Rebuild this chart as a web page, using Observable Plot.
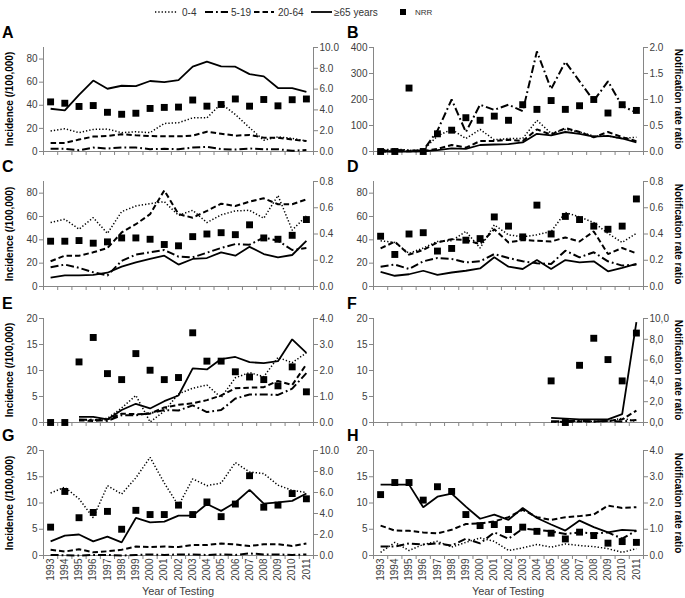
<!DOCTYPE html>
<html><head><meta charset="utf-8">
<script src="https://cdn.jsdelivr.net/npm/d3@7"></script>
<script src="https://cdn.jsdelivr.net/npm/@observablehq/plot@0.6"></script>
<style>
body{margin:0;background:#fff;}
#wrap{position:relative;width:685px;height:598px;font-family:"Liberation Sans",Arial,sans-serif;overflow:hidden;}
#wrap svg.plt{position:absolute;left:0;top:0;}
.t{position:absolute;white-space:nowrap;color:#000;}
.letter{font-weight:bold;font-size:16px;}
.ylab{font-weight:bold;font-size:10px;transform:translate(-50%,-50%) rotate(-90deg);}
.rlab{font-weight:bold;font-size:10px;transform:translate(-50%,-50%) rotate(90deg);}
.xlab{font-size:11px;color:#404040;transform:translate(-50%,-50%);}
</style></head><body><div id="wrap"></div>
<script>
// ---------- data ----------
const years = [1993,1994,1995,1996,1997,1998,1999,2000,2001,2002,2003,2004,2005,2006,2007,2008,2009,2010,2011];
const seriesNames = ["0-4","5-19","20-64","≥65 years"];

// Panel A
const a04   = [17.7,19.7,16.3,19.1,19.4,16.3,17.1,16.3,24.3,24.9,29.1,29.1,41.4,32.0,20.6,9.7,12.6,11.4,9.1];
const a519  = [2.3,2.3,1.1,3.4,2.6,3.4,3.4,2.0,2.3,2.0,3.4,4.0,2.0,1.7,2.6,2.0,2.0,0.6,1.4];
const a2064 = [7.4,7.4,10.3,12.9,13.4,14.9,14.0,13.4,13.1,13.1,13.7,17.1,15.4,13.7,14.3,12.0,12.0,10.3,9.1];
const a65   = [37,35.5,49,61.4,54.3,56.9,56.6,61,60,61.7,73.4,77.7,73.7,73.4,67,65,54.9,54.9,51.7];
const aNrr  = [4.77,4.64,4.33,4.42,3.77,3.58,3.68,4.14,4.24,4.27,4.95,4.36,4.52,5.05,4.36,5.0,4.39,4.98,5.05];
// Panel B
const b04   = [5,10,5,5,60,85,50,85,45,50,50,120,70,85,75,60,60,50,55];
const b519  = [2,6,4,4,80,200,75,180,160,180,155,385,240,345,270,195,270,175,150];
const b2064 = [0,1,1,2,10,25,15,40,40,45,40,85,65,90,75,55,75,55,40];
const b65   = [0,0,0,1,5,12,10,25,27,28,35,68,62,75,68,57,60,50,35];
const bNrr  = [0,0,1.22,0,0.34,0.41,0.65,0.6,0.68,0.6,0.9,0.81,0.98,0.81,0.88,1.0,0.74,0.9,0.79];
// Panel C
const c04   = [54.8,57.7,49.1,59,45.5,64.2,69,71,72.7,61,65.3,54.8,61.4,64.8,65.3,58.5,78,48.3,60.5];
const c519  = [16.5,18.8,16,12.2,9.4,22,27.3,29.3,31.3,25.6,25,29,33,36.4,35.8,42,39.2,31.3,33];
const c2064 = [21.6,26.4,26.4,29.3,33,46.3,53.4,62,82.4,62,59,64.8,71,69,72.7,75.6,70.5,70.5,74.7];
const c65   = [7.7,9.5,9.5,10,11.8,17,20.7,23.6,26.4,18.8,23.6,24.4,29.3,26.4,34,27.8,25,27,39.2];
const cNrr  = [0.345,0.345,0.35,0.33,0.34,0.37,0.37,0.36,0.32,0.31,0.38,0.40,0.41,0.395,0.47,0.37,0.36,0.39,0.51];
// Panel D
const d04   = [39.2,37.8,28.4,33,38.6,39.2,47.2,33,52.8,44.3,42.6,44.3,47.2,63.4,59.7,54.8,45.5,37.8,45.5];
const d519  = [17,18.8,15,21.6,24.4,23.6,20.7,21.6,27.8,24.4,21.6,19.9,19.3,30.7,25,29.3,21.6,17.9,18.8];
const d2064 = [32.7,38.4,27.3,31.3,37.8,40.6,39.8,36.4,49.1,37.8,39.8,39.2,38.6,42,38.6,47.2,27.8,33,28.4];
const d65   = [12.6,9.2,10.5,13.5,10,12,13.5,15.5,25,17,15,22.7,15,22.7,20.7,21.6,13,16,19.3];
const dNrr  = [0.383,0.244,0.40,0.41,0.27,0.29,0.353,0.365,0.53,0.46,0.378,0.62,0.40,0.534,0.51,0.46,0.436,0.46,0.667];
// Panel E
const e04   = [null,null,0.5,0.5,0.8,2.8,5.2,0.1,2.2,5.5,6.6,7.2,4.8,8.6,9.6,8.8,12.5,11.5,13.4];
const e519  = [null,null,0.6,0.5,0.3,1.4,1.4,1.8,2.4,2.3,3.3,2.0,2.4,4.6,5.4,5.4,5.3,6.5,9.5];
const e2064 = [null,null,0.4,0.3,0.6,1.7,1.6,1.7,2.9,3.4,3.7,4.3,5.2,6.6,6.7,6.8,8.0,7.2,11.2];
const e65   = [null,null,1.1,1.1,0.6,2.4,3.6,2.7,4.1,5.2,10.4,10.2,12.2,12.6,11.6,11.4,11.8,16.0,13.4];
const eNrr  = [0,0,2.33,3.27,1.88,1.65,2.65,2.01,1.65,1.73,3.45,2.36,2.36,1.95,1.75,1.65,1.41,2.14,1.18];
// Panel F
const f04   = [null,null,null,null,null,null,null,null,null,null,null,null,0.1,0.1,0.3,0.2,0.3,0.8,0.2];
const f519  = [null,null,null,null,null,null,null,null,null,null,null,null,0.2,0.3,0.3,0.2,0.3,0.2,0.5];
const f2064 = [null,null,null,null,null,null,null,null,null,null,null,null,0.2,0.1,0.2,0.2,0.3,0.6,2.3];
const f65   = [null,null,null,null,null,null,null,null,null,null,null,null,0.9,0.75,0.6,0.6,0.6,1.6,19.3];
const fNrr  = [null,null,null,null,null,null,null,null,null,null,null,null,4.0,0,5.5,8.1,6.05,4.0,8.6];
// Panel G
const g04   = [11.9,13,10.8,7.2,13.3,11.7,14.8,18.7,13.8,9.5,14.6,13.3,13.8,17.7,15.9,15.6,13.4,12.4,12.0];
const g519  = [0.1,0.05,0,0.1,0.1,0,0.1,0.2,0.1,0.2,0.2,0.1,0.2,0.1,0.4,0.2,0.2,0.1,0.2];
const g2064 = [1.1,0.75,1.2,0.6,0.8,1.1,1.7,1.6,1.7,1.6,2.0,2.0,2.3,2.1,1.8,2.15,2.15,1.8,2.3];
const g65   = [2.7,3.8,4.0,2.7,3.6,2.5,7.15,6.3,6.45,7.6,7.6,9.8,8.5,10.1,12.5,9.9,10.1,10.4,11.8];
const gNrr  = [2.7,6.1,3.6,4.1,4.2,2.5,4.3,3.9,3.9,4.8,3.9,5.1,3.7,4.9,7.6,4.6,4.8,5.9,5.4];
// Panel H
const h04   = [0.6,2.5,0.95,2.1,2.7,1.6,2.5,3.35,2.7,0.95,1.45,2.1,1.6,2.2,1.9,1.7,1.3,0.6,1.3];
const h519  = [1.7,1.7,2.3,2.1,2.3,1.9,3.2,2.3,4.4,3.2,5.1,4.9,4.6,4.1,4.4,4.2,4.4,3.2,4.75];
const h2064 = [5.7,4.75,4.7,4.4,4.2,4.9,6.0,6.1,6.5,7.3,8.7,7.3,6.8,7.3,7.5,7.8,9.5,9.05,9.2];
const h65   = [13.5,13.5,13.5,9.2,11.2,11.8,9.3,7.0,7.8,6.8,9.05,7.15,5.9,4.75,6.65,5.4,4.4,4.9,4.75];
const hNrr  = [2.32,2.78,2.78,2.11,2.62,2.44,1.56,1.14,1.18,0.99,1.08,0.92,0.85,0.63,0.89,0.76,0.47,0.53,0.5];

// tick labels
const ticks90  = [0,20,40,60,80];
const ticks400 = [0,100,200,300,400];
const ticks20  = [0,5,10,15,20];
const ticksR10 = [0,2,4,6,8,10];
const ticksR2  = [0,0.5,1,1.5,2];
const ticksR08 = [0,0.2,0.4,0.6,0.8];
const ticksR4  = [0,1,2,3,4];

// ---------- layout / style ----------
const W = 685, H = 598;
const COLS = {L: [43, 313], R: [373, 643]};
const ROWS = [[47, 151], [181, 286], [318, 422], [450, 555]];
const LINESTYLE = [
  {dash: "1.3,2", width: 1.5},
  {dash: "8,3,1.8,3", width: 2},
  {dash: "5.5,3", width: 2},
  {dash: null, width: 1.8}
];
const AX = "#868686";
const fmt1 = d3.format(".1f");
const fmtComma = d => fmt1(d).replace(".", ",");

const panels = [
  {id:"A", col:"L", row:0, s:[a04,a519,a2064,a65], nrr:aNrr, yL:[0,90],  tL:ticks90,  yR:[0,10],  tR:ticksR10, fR:fmt1},
  {id:"B", col:"R", row:0, s:[b04,b519,b2064,b65], nrr:bNrr, yL:[0,400], tL:ticks400, yR:[0,2],   tR:ticksR2,  fR:fmt1},
  {id:"C", col:"L", row:1, s:[c04,c519,c2064,c65], nrr:cNrr, yL:[0,90],  tL:ticks90,  yR:[0,0.8], tR:ticksR08, fR:fmt1},
  {id:"D", col:"R", row:1, s:[d04,d519,d2064,d65], nrr:dNrr, yL:[0,90],  tL:ticks90,  yR:[0,0.8], tR:ticksR08, fR:fmt1},
  {id:"E", col:"L", row:2, s:[e04,e519,e2064,e65], nrr:eNrr, yL:[0,20],  tL:ticks20,  yR:[0,4],   tR:ticksR4,  fR:fmt1},
  {id:"F", col:"R", row:2, s:[f04,f519,f2064,f65], nrr:fNrr, yL:[0,20],  tL:ticks20,  yR:[0,10],  tR:ticksR10, fR:fmtComma},
  {id:"G", col:"L", row:3, s:[g04,g519,g2064,g65], nrr:gNrr, yL:[0,20],  tL:ticks20,  yR:[0,10],  tR:ticksR10, fR:fmt1, yrs:true},
  {id:"H", col:"R", row:3, s:[h04,h519,h2064,h65], nrr:hNrr, yL:[0,20],  tL:ticks20,  yR:[0,4],   tR:ticksR4,  fR:fmt1, yrs:true}
];

const wrap = document.getElementById("wrap");
const xDom = [years[0] - 0.5, years[years.length - 1] + 0.5];
const bounds = years.map(y => y - 0.5).concat([years[years.length - 1] + 0.5]);

function base(p, yDomain) {
  const [x0, x1] = COLS[p.col], [y0, y1] = ROWS[p.row];
  return {
    width: W, height: H,
    marginLeft: x0, marginRight: W - x1, marginTop: y0, marginBottom: H - y1,
    style: {background: "transparent", overflow: "visible", fontFamily: "Liberation Sans, Arial, sans-serif", fontSize: "10px", color: "#404040"},
    x: {type: "linear", domain: xDom, label: null, axis: null},
    y: {domain: yDomain, label: null, axis: null}
  };
}

function addText(cls, txt, left, top) {
  const d = document.createElement("div");
  d.className = "t " + cls;
  d.textContent = txt;
  d.style.left = left + "px";
  d.style.top = top + "px";
  wrap.appendChild(d);
}

for (const p of panels) {
  const lineMarks = p.s.map((arr, k) => Plot.line(years.map((yr, i) => ({year: yr, v: arr[i], s: seriesNames[k]})), {
    x: "year", y: "v", stroke: "black", strokeWidth: LINESTYLE[k].width,
    strokeDasharray: LINESTYLE[k].dash, strokeLinejoin: "miter", strokeLinecap: "butt"
  }));
  const left = Plot.plot({
    ...base(p, p.yL),
    marks: [
      Plot.ruleX(xDom, {stroke: AX}),
      Plot.ruleY([p.yL[0]], {stroke: AX}),
      Plot.axisX(bounds, {tickSize: 4, tickFormat: () => "", stroke: AX, label: null}),
      p.yrs ? Plot.axisX(years, {tickSize: 0, tickRotate: -90, tickPadding: 3, tickFormat: d => String(d), label: null, fontSize: 10}) : null,
      Plot.axisY(p.tL, {anchor: "left", tickSize: 4, tickPadding: 2, stroke: AX, label: null, tickFormat: d => String(d)}),
      ...lineMarks
    ]
  });
  left.classList.add("plt");
  wrap.appendChild(left);

  const right = Plot.plot({
    ...base(p, p.yR),
    marks: [
      Plot.axisY(p.tR, {anchor: "right", tickSize: 4, tickPadding: 2, stroke: AX, label: null, tickFormat: p.fR}),
      Plot.dot(years.map((yr, i) => ({year: yr, v: p.nrr[i]})), {x: "year", y: "v", symbol: "square", r: 3.9, fill: "black"})
    ]
  });
  right.classList.add("plt");
  wrap.appendChild(right);

  const [x0, x1] = COLS[p.col], [y0, y1] = ROWS[p.row];
  addText("letter", p.id, p.col === "L" ? 2 : 347, y0 - 23);
  if (p.col === "L") addText("ylab", "Incidence (/100,000)", 9, (y0 + y1) / 2);
  else addText("rlab", "Notification rate ratio", 678, (y0 + y1) / 2);
  if (p.yrs) addText("xlab", "Year of Testing", (x0 + x1) / 2, 591);
}

// legend
const ns = "http://www.w3.org/2000/svg";
const lg = document.createElementNS(ns, "svg");
lg.setAttribute("width", W); lg.setAttribute("height", 26);
lg.style.position = "absolute"; lg.style.left = "0px"; lg.style.top = "0px";
const legendItems = [
  {x: 155, len: 23, tx: 182},
  {x: 205, len: 23, tx: 231},
  {x: 254, len: 20, tx: 278},
  {x: 311, len: 21, tx: 334}
];
legendItems.forEach((it, k) => {
  const l = document.createElementNS(ns, "line");
  l.setAttribute("x1", it.x); l.setAttribute("x2", it.x + it.len);
  l.setAttribute("y1", 12); l.setAttribute("y2", 12);
  l.setAttribute("stroke", "black"); l.setAttribute("stroke-width", LINESTYLE[k].width);
  if (LINESTYLE[k].dash) l.setAttribute("stroke-dasharray", LINESTYLE[k].dash);
  lg.appendChild(l);
  const t = document.createElementNS(ns, "text");
  t.setAttribute("x", it.tx); t.setAttribute("y", 15.5);
  t.setAttribute("font-size", 10); t.setAttribute("fill", "#333");
  t.setAttribute("font-family", "Liberation Sans, Arial, sans-serif");
  t.textContent = seriesNames[k];
  lg.appendChild(t);
});
const sq = document.createElementNS(ns, "rect");
sq.setAttribute("x", 400); sq.setAttribute("y", 9); sq.setAttribute("width", 6); sq.setAttribute("height", 6);
lg.appendChild(sq);
const nt = document.createElementNS(ns, "text");
nt.setAttribute("x", 415); nt.setAttribute("y", 15);
nt.setAttribute("font-size", 8); nt.setAttribute("fill", "#333");
nt.setAttribute("font-family", "Liberation Sans, Arial, sans-serif");
nt.textContent = "NRR";
lg.appendChild(nt);
wrap.appendChild(lg);
</script>
</body></html>
